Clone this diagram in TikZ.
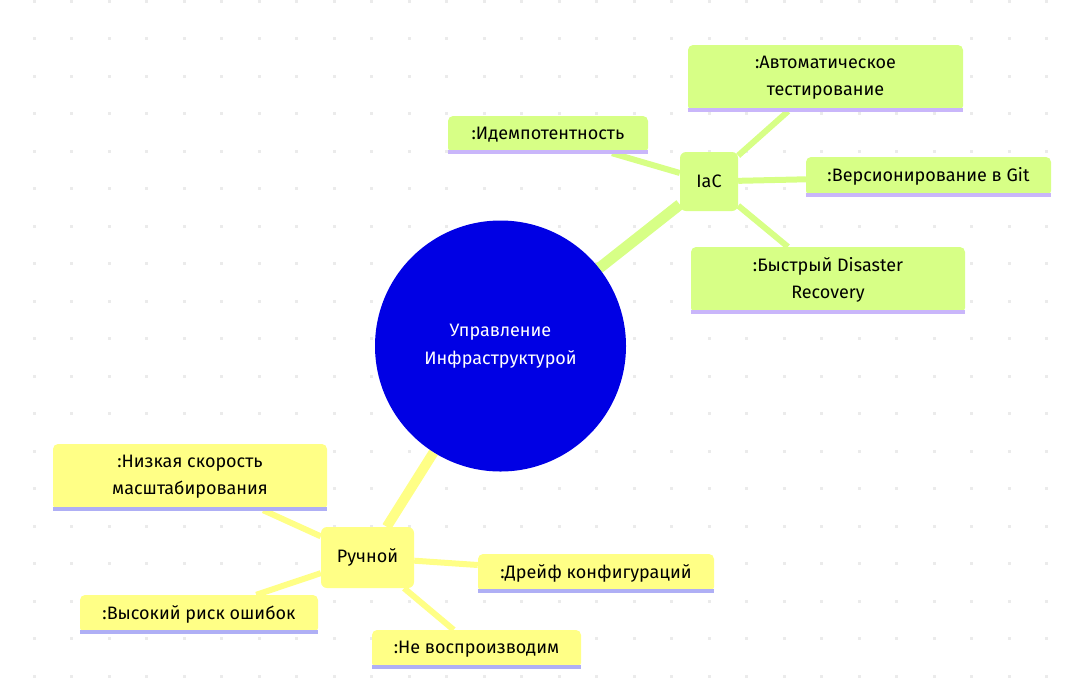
\documentclass[tikz,border=0pt]{standalone}
\usepackage{fontspec}
\setmainfont{Fira Sans}
\usetikzlibrary{positioning, backgrounds}

\definecolor{iacfill}{HTML}{D7FF86}
\definecolor{manfill}{HTML}{FFFF86}
\definecolor{hubblue}{HTML}{0000E4}
\definecolor{iacline}{HTML}{C9B6FA}
\definecolor{manline}{HTML}{AFAFF5}
\definecolor{griddot}{HTML}{EBEBEB}

\tikzset{
  leaf/.style={rounded corners=5pt, inner sep=0pt, align=center,
    font=\fontsize{18}{27}\selectfont},
  iacleaf/.style={leaf, fill=iacfill},
  manleaf/.style={leaf, fill=manfill},
  branch/.style={rounded corners=6pt, inner sep=0pt, font=\fontsize{18}{20}\selectfont},
}

\begin{document}
\begin{tikzpicture}[x=1pt, y=-1pt]
  \useasboundingbox (0,0) rectangle (1073,694);

  % central topic
  \node[circle, fill=hubblue, minimum size=251pt, text=white, align=center,
        font=\fontsize{18}{28}\selectfont] (root) at (500.5,346) {Управление\\Инфраструктурой};

  % IaC branch
  \node[branch, fill=iacfill, minimum width=58pt, minimum height=59pt] (iac) at (709,181.5) {IaC};
  \node[iacleaf, minimum width=275pt, minimum height=66pt] (autotest) at (825.5,78) {:Автоматическое\\тестирование};
  \node[iacleaf, minimum width=200pt, minimum height=37pt] (idem) at (548,134.5) {:Идемпотентность};
  \node[iacleaf, minimum width=245pt, minimum height=39pt] (gitver) at (928.5,176.5) {:Версионирование в Git};
  \node[iacleaf, minimum width=274pt, minimum height=66pt] (disaster) at (828,280) {:Быстрый Disaster\\Recovery};

  % manual branch
  \node[branch, fill=manfill, minimum width=93pt, minimum height=61pt] (manual) at (367.5,557.5) {Ручной};
  \node[manleaf, minimum width=274pt, minimum height=66pt] (scale) at (190,477) {:Низкая скорость\\масштабирования};
  \node[manleaf, minimum width=236pt, minimum height=38pt] (drift) at (596,573) {:Дрейф конфигураций};
  \node[manleaf, minimum width=238pt, minimum height=38pt] (errors) at (199,614) {:Высокий риск ошибок};
  \node[manleaf, minimum width=209pt, minimum height=38pt] (repro) at (476.5,649) {:Не воспроизводим};

  % underlines
  \foreach \n in {autotest, idem, gitver, disaster}
    \draw[iacline, line width=3.5pt] ([yshift=1pt]\n.south west) -- ([yshift=1pt]\n.south east);
  \foreach \n in {scale, drift, errors, repro}
    \draw[manline, line width=3.5pt] ([yshift=1pt]\n.south west) -- ([yshift=1pt]\n.south east);

  \begin{scope}[on background layer]
    % dot grid
    \foreach \gx in {0,...,27}
      \foreach \gy in {0,...,18}
        \fill[griddot] (34+37.5*\gx-1.5, 1+37.5*\gy-1.5) rectangle ++(3,3);
    % connectors
    \draw[iacfill, line width=11pt] (root) -- (iac);
    \draw[manfill, line width=10pt] (root) -- (manual);
    \foreach \n in {autotest, idem, gitver, disaster}
      \draw[iacfill, line width=6pt] (iac) -- (\n);
    \foreach \n in {scale, drift, errors, repro}
      \draw[manfill, line width=6pt] (manual) -- (\n);
  \end{scope}
\end{tikzpicture}
\end{document}
